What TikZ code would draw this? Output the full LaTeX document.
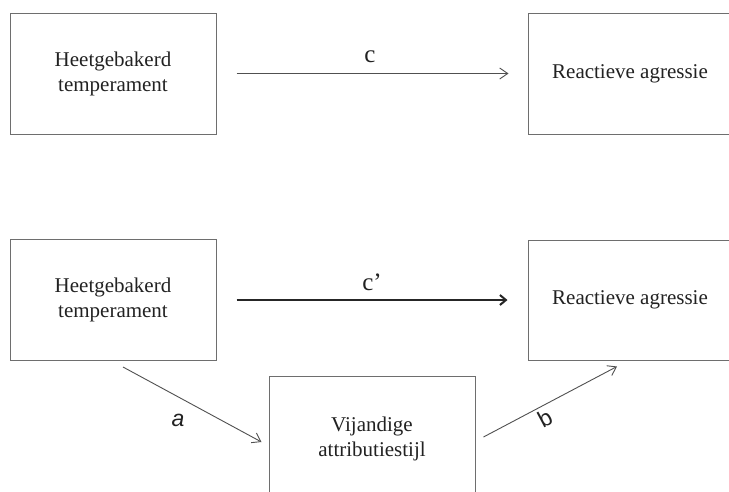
\documentclass[tikz,border=0pt]{standalone}
\usepackage{fontspec}
\setmainfont{Liberation Serif}
\newfontfamily\labsans{Liberation Sans}
\usetikzlibrary{arrows.meta}
\definecolor{boxgray}{HTML}{6E6E6E}
\definecolor{arrgray}{HTML}{505050}
\definecolor{txt}{HTML}{222222}
\begin{document}
\begin{tikzpicture}[x=1pt,y=-1pt,
  box/.style={draw=boxgray, line width=1pt, minimum width=206pt, minimum height=121pt,
    align=center, font=\fontsize{21}{25}\selectfont, text=txt, inner sep=0pt},
  thinarr/.style={draw=arrgray, line width=0.9pt, -{Straight Barb[length=8pt,width=11pt]}},
  thickarr/.style={draw=black!85, line width=2pt, -{Straight Barb[length=6pt,width=10pt]}},
  lab/.style={font=\fontsize{25}{28}\selectfont, text=txt, inner sep=0pt},
  slab/.style={font=\labsans\fontsize{23}{26}\selectfont, text=txt, inner sep=0pt}]
\useasboundingbox (0,0) rectangle (729,491);
\clip (0,0) rectangle (729,491);
\fill[white] (0,0) rectangle (729,491);
% top model
\node[box] (L1) at (113,73.5) {Heetgebakerd\\temperament};
\node[box, minimum width=204pt] (R1) at (630,73.5) {Reactieve agressie};
\draw[thinarr, shorten <=20pt, shorten >=19pt] (L1.east) -- (L1.east -| R1.west);
\node[lab] (c) at (370,57) {c};
% bottom model
\node[box] (L2) at (113,300) {Heetgebakerd\\temperament};
\node[box, minimum width=204pt, minimum height=120pt] (R2) at (630,300) {Reactieve agressie};
\node[box, minimum height=125pt] (M) at (372,438.5) {Vijandige\\attributiestijl};
\draw[thickarr, shorten <=20pt, shorten >=20pt] (L2.east) -- (L2.east -| R2.west);
\node[lab] (cp) at (372,282) {c’};
\draw[thinarr] ([xshift=10pt,yshift=-6pt]L2.south) -- ([xshift=-7pt,yshift=-3.5pt]M.west);
\draw[thinarr] ([xshift=8pt,yshift=1.5pt]M.east) -- ([xshift=-13pt,yshift=-6pt]R2.south);
\node[slab] (a) at (178,420) {\itshape a};
\node[slab, rotate=28] (b) at (545,418) {b};
\end{tikzpicture}
\end{document}
